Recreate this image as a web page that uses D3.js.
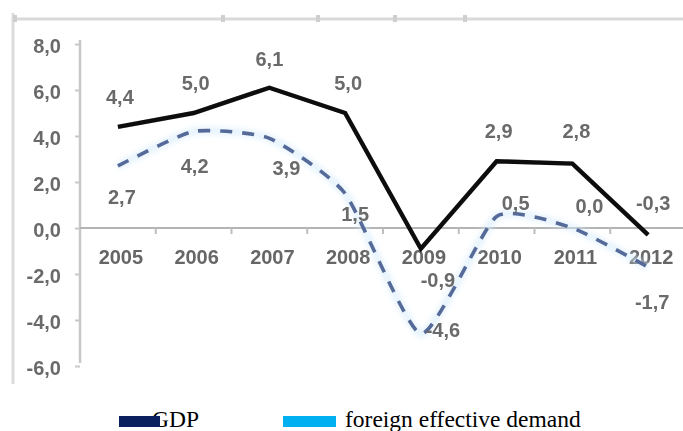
<!DOCTYPE html>
<html>
<head>
<meta charset="utf-8">
<script src="https://cdn.jsdelivr.net/npm/d3@7"></script>
<style>
  html, body { margin: 0; padding: 0; background: #fff; }
  svg { display: block; }
</style>
</head>
<body>
<svg id="chart" width="683" height="431"></svg>
<script>
// Annual growth, %
const years = ["2005", "2006", "2007", "2008", "2009", "2010", "2011", "2012"];
const gdp = [4.4, 5.0, 6.1, 5.0, -0.9, 2.9, 2.8, -0.3];
const foreignDemand = [2.7, 4.2, 3.9, 1.5, -4.6, 0.5, 0.0, -1.7];
const yTicks = [-6, -4, -2, 0, 2, 4, 6, 8];
const seriesNames = ["GDP", "foreign effective demand"];

const fmt = v => v.toFixed(1).replace(".", ",");

const svg = d3.select("#chart");
const W = 683, H = 431;
const FONT = "Liberation Sans, Arial, sans-serif";

const defs = svg.append("defs");
defs.append("filter").attr("id", "soft")
  .attr("x", "-5%").attr("y", "-5%").attr("width", "110%").attr("height", "110%")
  .append("feGaussianBlur").attr("stdDeviation", 0.7);
defs.append("filter").attr("id", "glow")
  .attr("x", "-10%").attr("y", "-10%").attr("width", "120%").attr("height", "120%")
  .append("feGaussianBlur").attr("stdDeviation", 2.5);

const x = d3.scaleBand().domain(years).range([80, 686]);
const y = d3.scaleLinear().domain([-6, 8]).range([366, 44]);
const cx = d => x(d) + x.bandwidth() / 2;

const plot = svg.append("g").attr("filter", "url(#soft)");

// outer frame edges
plot.append("line").attr("x1", 12).attr("x2", W).attr("y1", 19).attr("y2", 19)
  .attr("stroke", "#d9d9d9").attr("stroke-width", 3);
plot.append("line").attr("x1", 13).attr("x2", 13).attr("y1", 13).attr("y2", 384)
  .attr("stroke", "#dcdcdc").attr("stroke-width", 3);
plot.selectAll("rect.mark").data([15, 223, 318, 395, 465]).join("rect")
  .attr("class", "mark").attr("x", d => d - 2).attr("y", 15).attr("width", 4).attr("height", 7)
  .attr("fill", "#cfcfcf");

// y axis
const yAxis = plot.append("g").attr("transform", "translate(80,0)")
  .call(d3.axisLeft(y).tickValues(yTicks).tickFormat(fmt).tickSize(5).tickPadding(14));
yAxis.select(".domain").attr("stroke", "#c8c8c8").attr("stroke-width", 2.5)
  .attr("d", `M0,${y(8) - 4}V${y(-6) - 3}`);
yAxis.selectAll(".tick line").attr("stroke", "#c8c8c8").attr("stroke-width", 2);
yAxis.selectAll(".tick text")
  .attr("fill", "#6a6a6a").attr("font-family", FONT)
  .attr("font-size", 20).attr("font-weight", "bold").attr("dy", "0.4em");

// x axis along zero
const xAxis = plot.append("g").attr("transform", `translate(0,${y(0)})`)
  .call(d3.axisBottom(x).tickSize(0).tickPadding(30));
xAxis.select(".domain").attr("stroke", "#b4b4b4").attr("stroke-width", 2)
  .attr("d", `M80,0H${W}`);
xAxis.selectAll(".tick text")
  .attr("fill", "#666").attr("font-family", FONT)
  .attr("font-size", 20).attr("font-weight", "bold").attr("dx", 3).attr("dy", "0.3em");
// separators between categories
plot.selectAll("line.sep").data(years.slice(1)).join("line")
  .attr("class", "sep")
  .attr("x1", d => x(d)).attr("x2", d => x(d))
  .attr("y1", y(0)).attr("y2", y(0) + 6)
  .attr("stroke", "#bdbdbd").attr("stroke-width", 2);

// foreign effective demand: smoothed dashed line with a pale glow
const smooth = d3.line().x((d, i) => cx(years[i])).y(d => y(d))
  .curve(d3.curveCardinal.tension(0.45));
plot.append("path").datum(foreignDemand).attr("d", smooth)
  .attr("fill", "none").attr("stroke", "#d3eafa").attr("stroke-width", 8)
  .attr("opacity", 0.55).attr("filter", "url(#glow)");
plot.append("path").datum(foreignDemand).attr("d", smooth)
  .attr("fill", "none").attr("stroke", "#556b98").attr("stroke-width", 3.6)
  .attr("stroke-dasharray", "12,10");

// GDP line
const straight = d3.line().x((d, i) => cx(years[i])).y(d => y(d));
plot.append("path").datum(gdp).attr("d", straight)
  .attr("fill", "none").attr("stroke", "#0a0a0a").attr("stroke-width", 4.4)
  .attr("stroke-linejoin", "miter");

// value labels
const gdpOffsets = [[2, -30], [2, -30], [0, -29], [3, -30], [17, 31], [2, -31], [4, -33], [5, -32]];
const fedOffsets = [[4, 31], [1, 34], [17, 29], [10, 20], [22, -4], [19, -14], [17, -22], [4, 35]];
const labelStyle = sel => sel
  .attr("text-anchor", "middle").attr("dy", "0.36em")
  .attr("fill", "#6a6a6a").attr("font-family", FONT)
  .attr("font-size", 20).attr("font-weight", "bold");

plot.selectAll("text.gdp").data(gdp).join("text").attr("class", "gdp")
  .attr("x", (d, i) => cx(years[i]) + gdpOffsets[i][0])
  .attr("y", (d, i) => y(d) + gdpOffsets[i][1])
  .text(fmt).call(labelStyle);
plot.selectAll("text.fed").data(foreignDemand).join("text").attr("class", "fed")
  .attr("x", (d, i) => cx(years[i]) + fedOffsets[i][0])
  .attr("y", (d, i) => y(d) + fedOffsets[i][1])
  .text(fmt).call(labelStyle);

// legend
const legend = svg.append("g").attr("font-family", "Liberation Serif, 'Times New Roman', serif")
  .attr("font-size", 23.5).attr("fill", "#000");
legend.append("text").attr("x", 152).attr("y", 427).text(seriesNames[0]);
legend.append("rect").attr("x", 119).attr("y", 416).attr("width", 41).attr("height", 11)
  .attr("fill", "#0b1f5e");
legend.append("rect").attr("x", 283).attr("y", 416).attr("width", 53).attr("height", 11)
  .attr("fill", "#00b0f0");
legend.append("text").attr("x", 345).attr("y", 427).text(seriesNames[1]);
</script>
</body>
</html>
